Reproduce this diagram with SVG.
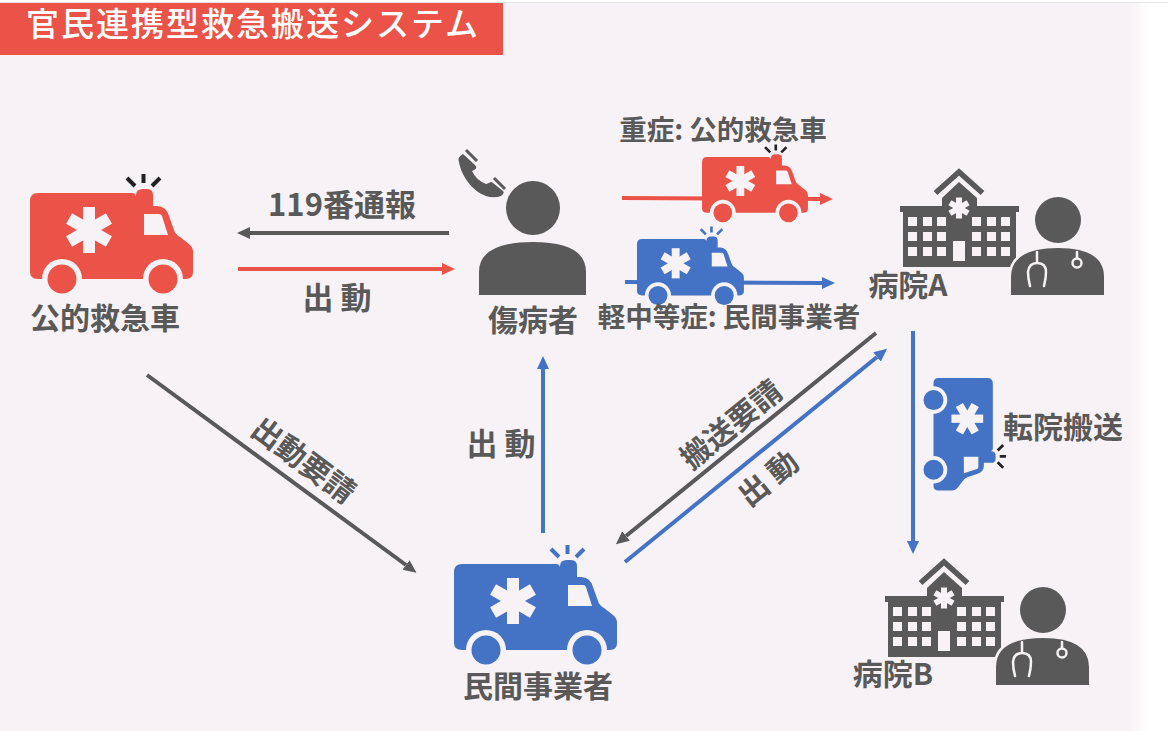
<svg xmlns="http://www.w3.org/2000/svg" width="1168" height="731" viewBox="0 0 1168 731">
<style>
.t{font-family:"Noto Sans CJK JP","Noto Sans",sans-serif;font-weight:700;fill:#595959;text-anchor:middle}
.c{fill:none;stroke-width:4}
.d{fill:#595959}
.b{fill:#f7f2f5}
.r{fill:none;stroke-width:4}
</style>
<defs>
<linearGradient id="fade" x1="0" x2="1" y1="0" y2="0"><stop offset="0" stop-color="#f7f2f5"/><stop offset="1" stop-color="#ffffff"/></linearGradient>
<marker id="ad" markerUnits="userSpaceOnUse" markerWidth="14" markerHeight="14" refX="0" refY="7" orient="auto"><path d="M0 1L13 7L0 13Z" fill="#595959"/></marker>
<marker id="ar" markerUnits="userSpaceOnUse" markerWidth="14" markerHeight="14" refX="0" refY="7" orient="auto"><path d="M0 1L13 7L0 13Z" fill="#eb5349"/></marker>
<marker id="ab" markerUnits="userSpaceOnUse" markerWidth="14" markerHeight="14" refX="0" refY="7" orient="auto"><path d="M0 1L13 7L0 13Z" fill="#4472c4"/></marker>
<g id="amb">
<g stroke="none">
<path d="M38 193H132Q135 193 136 196V195Q136 189 143 189H147Q153 189 153 195V206H157Q166 206 169 216L174 230Q175 234 180 237L189 244Q193 247 193 252V272Q193 279 186 279H38Q30 279 30 272V201Q30 193 38 193Z"/>
<path class="b" d="M144 214H159Q161 214 162 216L168 235H144Z"/>
<g class="b" transform="translate(89 230)"><rect x="-6" y="-23" width="12" height="46"/><rect x="-6" y="-23" width="12" height="46" transform="rotate(60)"/><rect x="-6" y="-23" width="12" height="46" transform="rotate(120)"/></g>
<circle class="b" cx="62" cy="279" r="20"/><circle class="b" cx="163" cy="279" r="20"/>
<circle cx="62" cy="279" r="14.5"/><circle cx="163" cy="279" r="14.5"/>
</g>
<path class="r" d="M143.500 174V183M127 178L135 186M160 178L152 186"/>
</g>
<g id="hosp">
<path class="d" d="M903 212H1016V267H903ZM900 206H942V198L959 182L977 198V206H1019V212H900Z"/>
<path fill="none" stroke="#595959" stroke-width="5.500" d="M935.500 193L959 172L982.500 193"/>
<g class="b" transform="translate(959 208)"><rect x="-3" y="-10.500" width="6" height="21"/><rect x="-3" y="-10.500" width="6" height="21" transform="rotate(60)"/><rect x="-3" y="-10.500" width="6" height="21" transform="rotate(120)"/></g>
<path class="b" d="M908 217h9v9h-9zM923 217h9v9h-9zM937 217h9v9h-9zM972 217h9v9h-9zM987 217h9v9h-9zM1001 217h9v9h-9zM908 232h9v9h-9zM923 232h9v9h-9zM937 232h9v9h-9zM972 232h9v9h-9zM987 232h9v9h-9zM1001 232h9v9h-9zM908 247h9v9h-9zM923 247h9v9h-9zM937 247h9v9h-9zM972 247h9v9h-9zM987 247h9v9h-9zM1001 247h9v9h-9zM953 241h12v20h-12z"/>
<circle class="d" cx="1058" cy="220" r="23"/>
<path class="b" stroke="#f7f2f5" stroke-width="5" d="M1011 295V277Q1011 248 1058 248Q1104 248 1104 277V295Z"/>
<path class="d" d="M1011 295V277Q1011 248 1058 248Q1104 248 1104 277V295Z"/>
<path fill="none" stroke="#f7f2f5" stroke-width="2.500" stroke-linecap="round" d="M1037 252V262M1030 286Q1028 278 1028 272Q1029 263 1037 263Q1046 263 1046 272Q1046 278 1044 286M1077 252V258"/>
<circle fill="none" stroke="#f7f2f5" stroke-width="2.500" cx="1077" cy="263" r="4.500"/>
</g>
</defs>
<rect width="1168" height="731" fill="#ffffff"/>
<rect x="0" y="3" width="1128" height="728" fill="#f7f2f5"/>
<rect x="1128" y="3" width="22" height="728" fill="url(#fade)"/>
<rect x="0" y="2" width="1168" height="1" fill="#e4e4e4"/>
<g id="title"><rect x="0" y="3" width="503" height="52" fill="#eb5349"/>
<text x="253" y="36" font-size="33" letter-spacing="2" style="font-family:'Noto Sans CJK JP',sans-serif;font-weight:500;fill:#fff;text-anchor:middle">官民連携型救急搬送システム</text></g>
<g id="connectors">
<path class="c" stroke="#595959" marker-end="url(#ad)" d="M449 233H250"/>
<path class="c" stroke="#eb5349" marker-end="url(#ar)" d="M238 269H442"/>
<path class="c" stroke="#595959" marker-end="url(#ad)" d="M147 375L406 565"/>
<path class="c" stroke="#4472c4" marker-end="url(#ab)" d="M543 533V369"/>
<path class="c" stroke="#595959" marker-end="url(#ad)" d="M876 333L626 536"/>
<path class="c" stroke="#4472c4" marker-end="url(#ab)" d="M625 562L877 357"/>
<path class="c" stroke="#4472c4" marker-end="url(#ab)" d="M913 331V541"/>
<path class="c" stroke="#eb5349" marker-end="url(#ar)" d="M622 198L820 199"/>
<path class="c" stroke="#4472c4" marker-end="url(#ab)" d="M625 282L822 283"/>
</g>
<g id="public-ambulance"><use href="#amb" fill="#eb5349" stroke="#222"/>
<text class="t" x="105" y="329" font-size="30">公的救急車</text></g>
<g id="patient">
<circle class="d" cx="533" cy="208" r="27"/>
<path class="d" d="M479 295V272Q479 242 533 242Q586 242 586 272V295Z"/>
<path class="d" d="M458.500 160Q458 157 463 154L475 165Q478 168 474 170L472 171Q476 180 486 184L489 183Q491 181 493 183L503 191Q505 193 501 196Q490 200 478 192Q462 180 458.500 160Z"/>
<path fill="none" stroke="#595959" stroke-width="3" d="M466 150L477 161M494 178L505 189"/>
<text class="t" x="533" y="331" font-size="30">傷病者</text></g>
<g id="severe-ambulance"><use href="#amb" transform="translate(682.500 31.500) scale(.65)" fill="#eb5349" stroke="#222"/>
<text class="t" x="723" y="140" font-size="27.500">重症: 公的救急車</text></g>
<g id="mild-ambulance"><use href="#amb" transform="translate(617.300 112.400) scale(.656)" fill="#4472c4" stroke="#4472c4"/>
<text class="t" x="729" y="327" font-size="27.500">軽中等症: 民間事業者</text></g>
<g id="hospital-a"><use href="#hosp"/><text class="t" x="908" y="296" font-size="30">病院A</text></g>
<g id="transfer-ambulance"><use href="#amb" transform="translate(1126 357.300) rotate(90) scale(.69)" fill="#4472c4" stroke="#222"/>
<text class="t" x="1063" y="438" font-size="30">転院搬送</text></g>
<g id="hospital-b"><use href="#hosp" transform="translate(-15 390)"/><text class="t" x="893" y="685" font-size="30">病院B</text></g>
<g id="private-ambulance"><use href="#amb" transform="translate(424 371)" fill="#4472c4" stroke="#4472c4"/>
<text class="t" x="538" y="697" font-size="30">民間事業者</text></g>
<g id="labels">
<text class="t" x="342" y="216" font-size="31">119番通報</text>
<text class="t" x="337" y="309" font-size="31">出 動</text>
<text class="t" x="501" y="455" font-size="31">出 動</text>
<text class="t" font-size="30" transform="translate(297 469) rotate(37)">出動要請</text>
<text class="t" font-size="30" transform="translate(738 433) rotate(-39)">搬送要請</text>
<text class="t" font-size="30" transform="translate(775 487) rotate(-39)">出 動</text>
</g>
</svg>
